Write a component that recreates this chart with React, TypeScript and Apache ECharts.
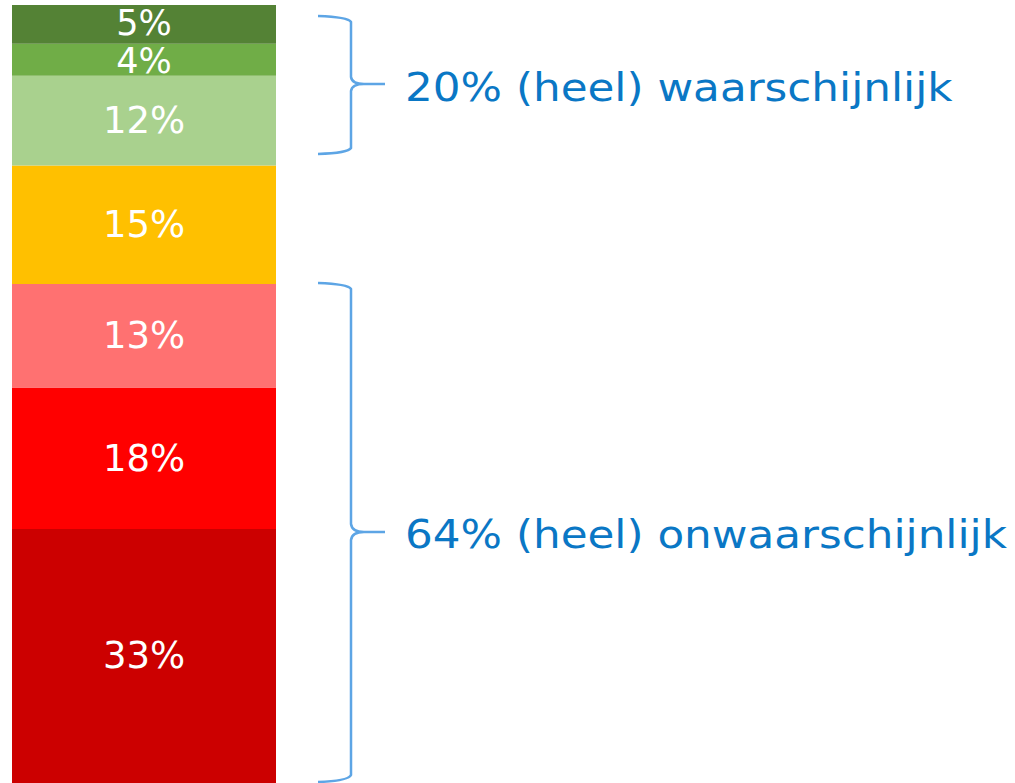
import React, { useEffect, useRef } from "react";
import * as echarts from "echarts";

// Stacked bar segments, bottom to top
const segmentNames = ["Heel onwaarschijnlijk", "Onwaarschijnlijk", "Enigszins onwaarschijnlijk", "Neutraal", "Enigszins waarschijnlijk", "Waarschijnlijk", "Heel waarschijnlijk"];
const segmentValues = [32.66, 18.17, 13.3, 15.25, 11.53, 4.11, 4.98];
const segmentColors = ["#CC0000", "#FF0000", "#FF7171", "#FFC000", "#A9D18E", "#70AD47", "#548235"];
const categories = ["Totaal"];
const groupLabels = ["20% (heel) waarschijnlijk", "64% (heel) onwaarschijnlijk"];

const braceTop = "M318,16 Q348,17 351,22 L351,77 Q352,84 364,84 L385,84 M364,84 Q352,84 351,91 L351,148 Q348,153 318,154";
const braceBottom = "M318,283 Q348,284 351,289 L351,524 Q352,532 364,532 L385,532 M364,532 Q352,532 351,540 L351,775 Q348,781 318,782";

export default function App() {
  const ref = useRef<HTMLDivElement>(null);
  useEffect(() => {
    document.body.style.margin = "0";
    echarts.graphic.registerShape("braceTop", echarts.graphic.extendPath(braceTop, {}));
    echarts.graphic.registerShape("braceBottom", echarts.graphic.extendPath(braceBottom, {}));
    const chart = echarts.init(ref.current!, null, { renderer: "svg" });
    const braceStyle = { stroke: "#5DA5E5", lineWidth: 2.5, fill: "none" };
    const textStyle = (t: string) => ({
      text: t,
      fill: "#0A77C5",
      font: '39px "DejaVu Sans"',
      textAlign: "left",
      textVerticalAlign: "middle",
    });
    const small = (i: number) => i >= 5;
    chart.setOption({
      animation: false,
      grid: { left: 12, width: 264, top: 5, bottom: 0 },
      xAxis: { type: "category", data: categories, show: false },
      yAxis: { type: "value", min: 0, max: 100, show: false },
      series: segmentValues.map((v, i) => ({
        type: "bar",
        name: segmentNames[i],
        stack: "total",
        barWidth: "100%",
        data: [v],
        itemStyle: { color: segmentColors[i] },
        label: {
          show: true,
          position: "inside",
          color: "#ffffff",
          fontSize: small(i) ? 35 : 37,
          lineHeight: small(i) ? 32 : 37,
          offset: i === 6 ? [0, -1] : i === 5 ? [0, 1] : [0, 0],
          fontFamily: "DejaVu Sans",
          formatter: (p: any) => Math.round(p.value) + "%",
        },
      })),
      graphic: [
        { type: "braceTop", x: 0, y: 0, style: braceStyle },
        { type: "braceBottom", x: 0, y: 0, style: braceStyle },
        { type: "text", x: 405, y: 88, scaleX: 1.12, style: textStyle(groupLabels[0]) },
        { type: "text", x: 405, y: 535, scaleX: 1.12, style: textStyle(groupLabels[1]) },
      ],
    });
    return () => chart.dispose();
  }, []);
  return <div ref={ref} style={{ width: 1015, height: 783 }} />;
}
